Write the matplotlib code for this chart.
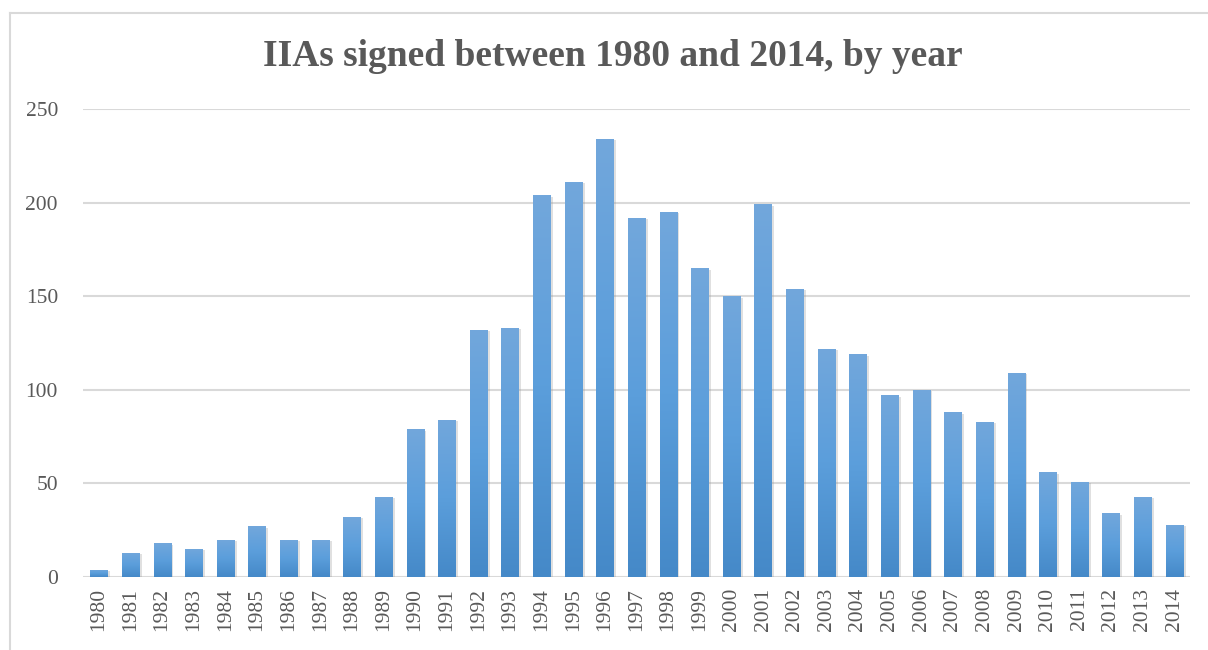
import numpy as np
import matplotlib
matplotlib.use("Agg")
import matplotlib.pyplot as plt
import matplotlib.patheffects as pe
from matplotlib.lines import Line2D
from matplotlib.colors import LinearSegmentedColormap

# data
years = [str(y) for y in range(1980, 2015)]
counts = [4, 13, 18, 15, 20, 27, 20, 20, 32, 43,
          79, 84, 132, 133, 204, 211, 234, 192, 195, 165,
          150, 199, 154, 122, 119, 97, 100, 88, 83, 109,
          56, 51, 34, 43, 28]
yticks = [0, 50, 100, 150, 200, 250]

plt.rcParams['font.family'] = ['Liberation Serif', 'DejaVu Serif']

W, H = 1208, 650
fig = plt.figure(figsize=(W / 100, H / 100), dpi=100)
ax = fig.add_axes([83 / W, 1 - 577 / H, (1190 - 83) / W, (577 - 109) / H])

x = np.arange(len(years))
bw = 0.54
bars = ax.bar(x, counts, width=bw, color='#5b9bd5', zorder=3,
              path_effects=[pe.SimplePatchShadow(offset=(2, -1), shadow_rgbFace='#9a9a9a', alpha=0.3),
                            pe.Normal()])

# vertical gradient on each bar (lighter top, darker bottom)
grad = np.linspace(0, 1, 256).reshape(-1, 1)
cmap = LinearSegmentedColormap.from_list('bar', ['#4589c8', '#5b9edb', '#72a7dc'])
for b in bars:
    x0, h = b.get_x(), b.get_height()
    im = ax.imshow(grad, cmap=cmap, aspect='auto', origin='lower',
                   extent=[x0, x0 + b.get_width(), 0, h], zorder=4)
    im.set_clip_path(b)

ax.set_xlim(-0.5, len(years) - 0.5)
ax.set_ylim(0, 250)
ax.set_yticks(yticks)
ax.set_xticks(x)
ax.set_xticklabels(years, rotation=90)
ax.tick_params(length=0, labelsize=15.5, labelcolor='#595959')
ax.tick_params(axis='y', pad=18)
ax.tick_params(axis='x', pad=8)
for s in ax.spines.values():
    s.set_visible(False)
ax.yaxis.grid(True, color='#d9d9d9', linewidth=1.5, zorder=0)
ax.set_axisbelow(True)

fig.text(613 / W, 1 - 57 / H, 'IIAs signed between 1980 and 2014, by year',
         ha='center', va='center', fontsize=27, fontweight='bold', color='#595959')

# outer chart border (top and left edges visible)
fig.add_artist(Line2D([10 / W, 1.0], [1 - 13 / H, 1 - 13 / H], color='#d9d9d9', lw=1.5, transform=fig.transFigure))
fig.add_artist(Line2D([10 / W, 10 / W], [0, 1 - 13 / H], color='#d9d9d9', lw=1.5, transform=fig.transFigure))

fig.savefig('out.png', dpi=100, facecolor='white')
